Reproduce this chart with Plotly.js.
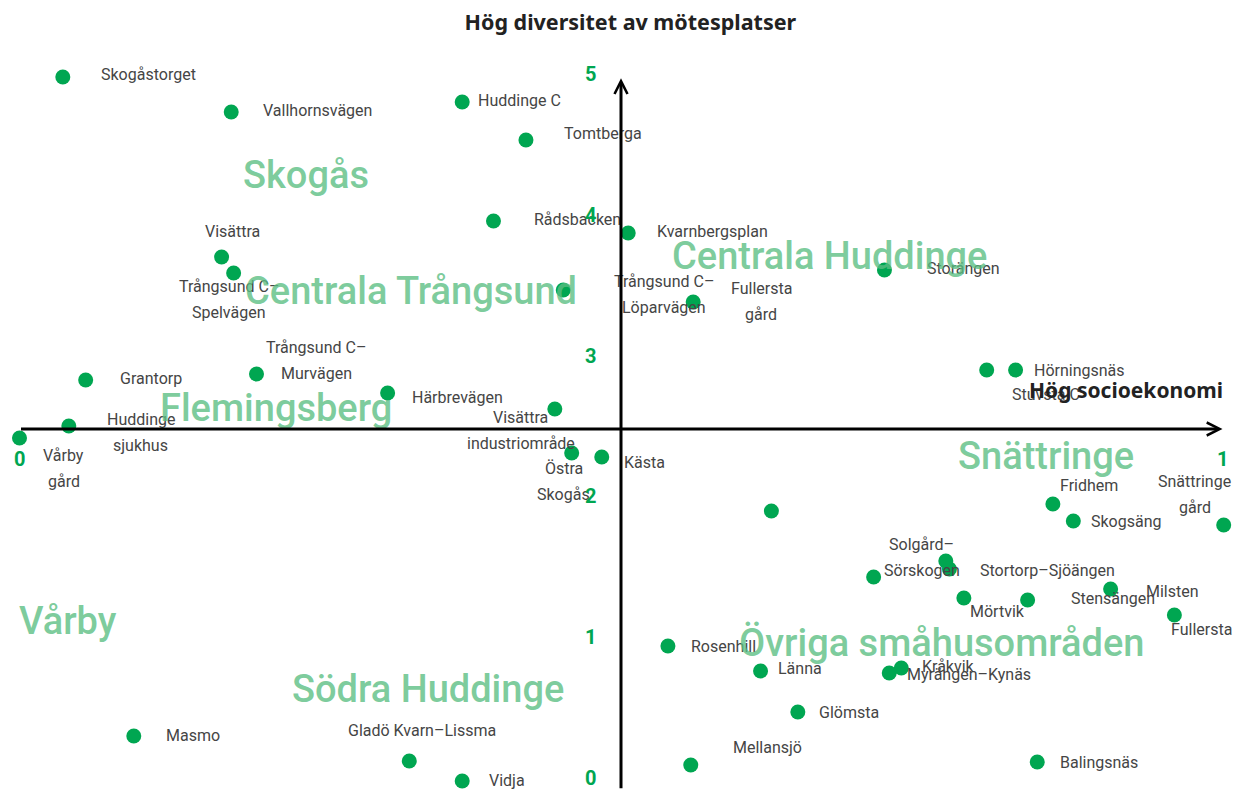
<!DOCTYPE html>
<html><head><meta charset="utf-8">
<script src="https://cdn.plot.ly/plotly-3.0.1.min.js"></script>
<style>html,body{margin:0;padding:0;background:#fff;}#chart{width:1236px;height:789px;}</style>
</head><body><div id="chart"></div>
<script>
// ---- data ----
const names = ["Skogåstorget","Vallhornsvägen","Huddinge C","Tomtberga","Rådsbacken","Kvarnbergsplan","Visättra","Trångsund C–\nSpelvägen","Trångsund C–\nLöparvägen","Fullersta\ngård","Storängen","Hörningsnäs","Stuvsta C","Grantorp","Trångsund C–\nMurvägen","Härbrevägen","Visättra\nindustriområde","Huddinge\nsjukhus","Vårby\ngård","Östra\nSkogås","Kästa","","Fridhem","Skogsäng","Snättringe\ngård","Solgård–\nSörskogen","Stortorp–Sjöängen","","Mörtvik","Stensängen","Milsten","Fullersta","Rosenhill","Länna","Kråkvik","Myrängen–Kynäs","Glömsta","Mellansjö","Balingsnäs","Masmo","Gladö Kvarn–Lissma","Vidja"];
const socio = [0.036,0.176,0.368,0.421,0.394,0.506,0.168,0.178,0.452,0.560,0.719,0.828,0.804,0.055,0.197,0.306,0.445,0.041,0.000,0.459,0.484,0.625,0.859,0.876,1.001,0.770,0.773,0.710,0.785,0.838,0.907,0.960,0.539,0.616,0.733,0.723,0.647,0.558,0.846,0.095,0.324,0.368];
const diversity = [4.979,4.732,4.803,4.535,3.965,3.880,3.711,3.599,3.479,3.394,3.620,2.915,2.915,2.845,2.887,2.754,2.641,2.521,2.437,2.331,2.303,1.923,1.972,1.852,1.824,1.570,1.514,1.458,1.310,1.296,1.373,1.190,0.972,0.796,0.817,0.782,0.507,0.134,0.155,0.338,0.162,0.021];
const yTickLabels = [0,1,2,3,4,5];
const xTickLabels = [0,1];
const groupNames = ["Skogås","Centrala Trångsund","Centrala Huddinge","Flemingsberg","Snättringe","Vårby","Södra Huddinge","Övriga småhusområden"];
const titleText = "Hög diversitet av mötesplatser";
const xTitleText = "Hög socioekonomi";

// ---- layout-only positions (label placement) ----
const groupPos = [[0.2382,4.29],[0.3254,3.475],[0.6737,3.72],[0.2132,2.65],[0.8533,2.31],[0.0403,1.15],[0.3396,0.67],[0.766,0.995]];
// [dx px, dy px (up), anchor]
const labelOffsets = [
 [36,2,'left'],[30,2,'left'],[14,1,'left'],[36,7,'left'],[39,1,'left'],[27,2,'left'],
 [11,26,'center'],[-5,-14,'center'],[101,8,'center'],[68,14,'center'],[41,1,'left'],
 [16,0,'left'],[23,-24,'left'],[32,2,'left'],[60,27,'center'],[22,-5,'left'],
 [-34,-9,'center'],[72,7,'center'],[44,-18,'center'],[-8,-15,'center'],[20,-6,'left'],
 [0,0,'left'],[36,18,'center'],[16,0,'left'],[-29,43,'center'],[-24,17,'center'],
 [29,-1,'left'],[0,0,'left'],[34,-14,'center'],[41,1,'left'],[33,-2,'left'],[-5,-14,'left'],
 [21,-1,'left'],[15,2,'left'],[19,1,'left'],[16,-2,'left'],[19,0,'left'],[77,17,'center'],
 [21,-1,'left'],[30,1,'left'],[13,31,'center'],[25,1,'left']
];

const FONT = "Roboto, 'Noto Sans', sans-serif";
const BOLDFONT = "'Noto Sans', 'Open Sans', sans-serif";
const GREEN = '#00a651';
const annotations = [];

// point labels
names.forEach((n, i) => {
  if (!n) return;
  const [dx, dy, anch] = labelOffsets[i];
  n.split('\n').forEach((line, j) => {
    annotations.push({x: socio[i], y: diversity[i], xref:'x', yref:'y', text: line, showarrow:false,
      xanchor: anch, yanchor:'middle', xshift: dx, yshift: dy - j*26,
      font:{family:FONT, size:16, color:'#454545'}});
  });
});

// group labels
groupNames.forEach((g, i) => {
  annotations.push({x: groupPos[i][0], y: groupPos[i][1], xref:'x', yref:'y', text: g, showarrow:false,
    xanchor:'center', yanchor:'middle', font:{family:FONT, size:38, color:'rgba(90,190,130,0.8)', weight:500}});
});

// axis arrows
annotations.push({x:1.0, y:2.5, ax:0, ay:2.5, xref:'x', yref:'y', axref:'x', ayref:'y', text:'', showarrow:true,
  arrowhead:5, arrowsize:0.85, arrowwidth:3, arrowcolor:'#000', standoff:0});
annotations.push({x:0.5, y:4.97, ax:0.5, ay:-0.04, xref:'x', yref:'y', axref:'x', ayref:'y', text:'', showarrow:true,
  arrowhead:5, arrowsize:0.85, arrowwidth:3, arrowcolor:'#000', standoff:0});

// tick labels
yTickLabels.forEach(v => {
  annotations.push({x:0.5, y:v, xref:'x', yref:'y', text:String(v), showarrow:false, xanchor:'center', yanchor:'middle',
    xshift:-31, yshift:(5 - v) * 1.2, font:{family:FONT, size:20, color:GREEN, weight:'bold'}});
});
xTickLabels.forEach(v => {
  annotations.push({x:v, y:2.5, xref:'x', yref:'y', text:String(v), showarrow:false, xanchor:'center', yanchor:'middle',
    xshift:0, yshift:-30, font:{family:FONT, size:20, color:GREEN, weight:'bold'}});
});

// x axis title
annotations.push({x:1.0, y:2.775, xref:'x', yref:'y', text:xTitleText, showarrow:false, xanchor:'right', yanchor:'middle',
  xshift:2, font:{family:BOLDFONT, size:21, color:'#222', weight:'bold'}});

const trace = {x: socio, y: diversity, mode:'markers', type:'scatter', cliponaxis:false,
  marker:{size:15, color:GREEN}, hoverinfo:'skip'};

const layout = {
  width:1236, height:789, margin:{l:0,r:0,t:0,b:0},
  paper_bgcolor:'#fff', plot_bgcolor:'#fff', showlegend:false,
  title:{text:titleText, x:0.51, xanchor:'center', y:0.972, yanchor:'middle', yref:'container',
    font:{family:BOLDFONT, size:21.5, color:'#222', weight:'bold'}},
  xaxis:{range:[-0.01621,1.01122], showgrid:false, zeroline:false, showticklabels:false, showline:false, fixedrange:true},
  yaxis:{range:[-0.0352,5.5211], showgrid:false, zeroline:false, showticklabels:false, showline:false, fixedrange:true},
  annotations: annotations
};
Plotly.newPlot('chart', [trace], layout, {displayModeBar:false, staticPlot:true});
</script>
</body></html>
